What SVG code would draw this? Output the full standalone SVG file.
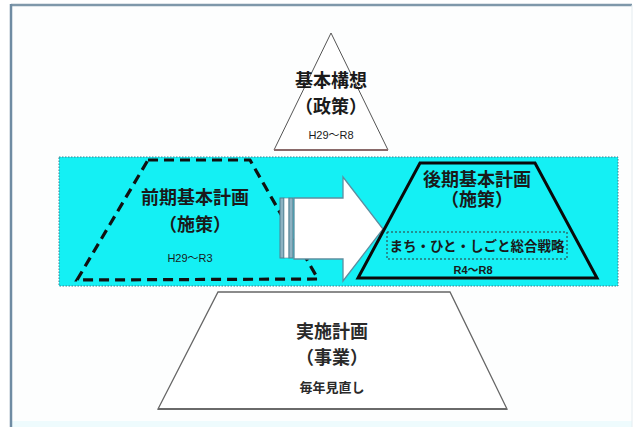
<svg xmlns="http://www.w3.org/2000/svg" width="638" height="427" viewBox="0 0 638 427">
<defs>
<style>
text{font-family:"Liberation Sans","Noto Sans CJK JP",sans-serif;text-anchor:middle;fill:#1a1a1a}
.title{font-size:18px;font-weight:bold}
.sub{font-size:18px;font-weight:bold}
.period{font-size:11px}
.cyan{fill:#14F0F4}
</style>
</defs>
<rect x="0" y="0" width="638" height="427" fill="#ffffff"/>
<g id="frame">
<rect x="11" y="5" width="621" height="430" fill="#fdfefe" stroke="none"/>
<rect x="11" y="421" width="621" height="6" fill="#eefbfd"/>
<line x1="11" y1="5" x2="632" y2="5" stroke="#7f98aa" stroke-width="2.5"/>
<line x1="11" y1="4" x2="11" y2="427" stroke="#6f8ca3" stroke-width="2.5"/>
<line x1="632" y1="5" x2="632" y2="427" stroke="#e4ecf0" stroke-width="1"/>
</g>
<g id="kihon-koso">
<polygon points="331,33 388,150 274,150" fill="#ffffff" stroke="#555555" stroke-width="1"/>
<line x1="274" y1="150" x2="388" y2="150" stroke="#8a6a6a" stroke-width="2"/>
<text class="title" x="331" y="87">基本構想</text>
<text class="sub" x="331" y="113">（政策）</text>
<text class="period" x="331" y="139">H29～R8</text>
</g>
<g id="band">
<rect class="cyan" x="59" y="157" width="559" height="129" stroke="#3d7f8c" stroke-width="1" stroke-dasharray="1.5 1.5"/>
</g>
<g id="zenki">
<polygon points="148,160 250,160 318,279 77,280" fill="none" stroke="#111111" stroke-width="3.2" stroke-dasharray="10 6"/>
<text class="title" x="195" y="204">前期基本計画</text>
<text class="sub" x="195" y="231">（施策）</text>
<text class="period" x="190" y="262">H29～R3</text>
</g>
<g id="connectors">
<rect x="280" y="198" width="4" height="60" fill="#8db2c2" stroke="#4f7f90" stroke-width="1"/>
<rect x="284" y="198" width="5" height="60" fill="#ffffff" stroke="#4f7f90" stroke-width="0.6"/>
<rect x="289" y="198" width="4" height="60" fill="#8db2c2" stroke="#4f7f90" stroke-width="1"/>
<polygon points="294,198 343,198 343,177 383,229 343,281 343,259 294,259" fill="#ffffff" stroke="#5d8ea0" stroke-width="1.3"/>
</g>
<g id="koki">
<polygon class="cyan" points="420,163 535,163 597,278 358,278" stroke="#0a0a0a" stroke-width="3"/>
<text class="title" x="477" y="186">後期基本計画</text>
<text class="sub" x="477" y="206">（施策）</text>
<g id="machi-hito-shigoto">
<rect x="387" y="232" width="180" height="27" fill="none" stroke="#333333" stroke-width="1" stroke-dasharray="2 2"/>
<text x="477" y="251" style="font-size:13.5px;font-weight:bold">まち・ひと・しごと総合戦略</text>
</g>
<text class="period" x="473" y="274" style="font-weight:bold">R4～R8</text>
</g>
<g id="jisshi">
<polygon points="218,292 450,292 507,409 158,409" fill="#ffffff" stroke="#666666" stroke-width="1.3"/>
<line x1="158" y1="409" x2="507" y2="409" stroke="#6a6a6a" stroke-width="2"/>
<text class="title" x="332" y="338" style="fill:#2a2a2a">実施計画</text>
<text class="sub" x="332" y="364" style="fill:#2a2a2a">（事業）</text>
<text x="332" y="392" style="font-size:13px;font-weight:bold;fill:#2a2a2a">毎年見直し</text>
</g>
</svg>
